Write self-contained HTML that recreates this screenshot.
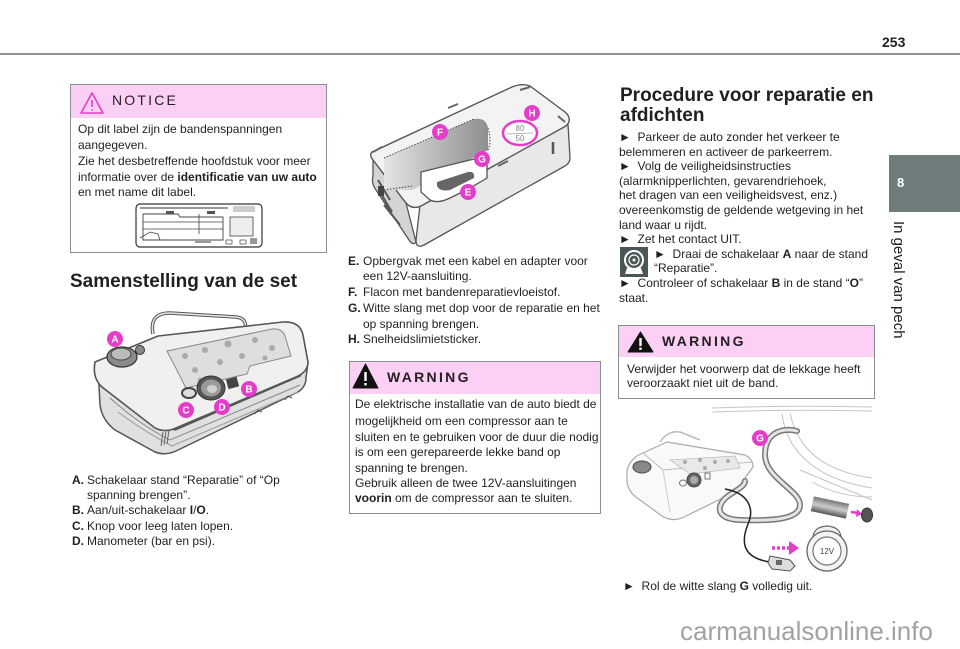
<!DOCTYPE html>
<html><head><meta charset="utf-8">
<style>
html,body{margin:0;padding:0;background:#fff;}
body{width:960px;height:649px;position:relative;overflow:hidden;font-family:"Liberation Sans",Arial,sans-serif;color:#231f20;}
.t{position:absolute;white-space:nowrap;font-size:12px;line-height:15px;color:#231f20;}
.h{position:absolute;white-space:nowrap;font-size:19px;line-height:22px;font-weight:bold;color:#231f20;}
b{font-weight:bold;}
.box{position:absolute;border:1px solid #86908f;box-sizing:border-box;background:#fff;}
.bh{position:absolute;left:0;right:0;top:0;background:#fcd0f5;}
svg{position:absolute;left:0;top:0;}
</style></head><body>

<!-- header -->
<div style="position:absolute;left:0;top:53px;width:960px;height:2px;background:#8c9696;"></div>
<div style="position:absolute;left:882px;top:33px;font-size:14px;font-weight:bold;line-height:18px;">253</div>

<!-- sidebar -->
<div style="position:absolute;left:889px;top:155px;width:71px;height:57px;background:#6e7c7b;"></div>
<div style="position:absolute;left:897px;top:175px;font-size:13px;font-weight:bold;color:#fff;line-height:16px;">8</div>
<div style="position:absolute;left:889px;top:221px;width:18px;height:125px;writing-mode:vertical-rl;font-size:15px;line-height:18px;white-space:nowrap;color:#231f20;">In geval van pech</div>

<!-- NOTICE box -->
<div class="box" style="left:70px;top:84px;width:257px;height:169px;">
  <div class="bh" style="height:33px;"></div>
</div>
<div style="position:absolute;left:112px;top:91px;font-size:14px;line-height:18px;letter-spacing:2.2px;color:#231f20;">NOTICE</div>
<div class="t" style="left:78px;top:122px;">Op dit label zijn de bandenspanningen</div>
<div class="t" style="left:78px;top:138px;">aangegeven.</div>
<div class="t" style="left:78px;top:154px;">Zie het desbetreffende hoofdstuk voor meer</div>
<div class="t" style="left:78px;top:170px;">informatie over de <b>identificatie van uw auto</b></div>
<div class="t" style="left:78px;top:185px;">en met name dit label.</div>

<div class="h" style="left:70px;top:271px;">Samenstelling van de set</div>

<div class="t" style="left:72px;top:473px;"><b>A.</b></div><div class="t" style="left:87px;top:473px;">Schakelaar stand “Reparatie” of “Op</div>
<div class="t" style="left:87px;top:488px;">spanning brengen”.</div>
<div class="t" style="left:72px;top:503px;"><b>B.</b></div><div class="t" style="left:87px;top:503px;">Aan/uit-schakelaar <b>I</b>/<b>O</b>.</div>
<div class="t" style="left:72px;top:519px;"><b>C.</b></div><div class="t" style="left:87px;top:519px;">Knop voor leeg laten lopen.</div>
<div class="t" style="left:72px;top:534px;"><b>D.</b></div><div class="t" style="left:87px;top:534px;">Manometer (bar en psi).</div>

<!-- middle column -->
<div class="t" style="left:348px;top:254px;"><b>E.</b></div><div class="t" style="left:363px;top:254px;">Opbergvak met een kabel en adapter voor</div>
<div class="t" style="left:363px;top:269px;">een 12V-aansluiting.</div>
<div class="t" style="left:348px;top:285px;"><b>F.</b></div><div class="t" style="left:363px;top:285px;">Flacon met bandenreparatievloeistof.</div>
<div class="t" style="left:348px;top:301px;"><b>G.</b></div><div class="t" style="left:363px;top:301px;">Witte slang met dop voor de reparatie en het</div>
<div class="t" style="left:363px;top:317px;">op spanning brengen.</div>
<div class="t" style="left:348px;top:332px;"><b>H.</b></div><div class="t" style="left:363px;top:332px;">Snelheidslimietsticker.</div>

<div class="box" style="left:349px;top:361px;width:252px;height:153px;">
  <div class="bh" style="height:32px;"></div>
</div>
<div style="position:absolute;left:387px;top:368px;font-size:14px;font-weight:bold;line-height:18px;letter-spacing:2.3px;">WARNING</div>
<div class="t" style="left:355px;top:397px;">De elektrische installatie van de auto biedt de</div>
<div class="t" style="left:355px;top:414px;">mogelijkheid om een compressor aan te</div>
<div class="t" style="left:355px;top:430px;">sluiten en te gebruiken voor de duur die nodig</div>
<div class="t" style="left:355px;top:445px;">is om een gerepareerde lekke band op</div>
<div class="t" style="left:355px;top:461px;">spanning te brengen.</div>
<div class="t" style="left:355px;top:476px;">Gebruik alleen de twee 12V-aansluitingen</div>
<div class="t" style="left:355px;top:491px;"><b>voorin</b> om de compressor aan te sluiten.</div>

<!-- right column -->
<div class="h" style="left:620px;top:85px;">Procedure voor reparatie en</div>
<div class="h" style="left:620px;top:105px;">afdichten</div>
<div class="t" style="left:619px;top:130px;">►&nbsp;&nbsp;Parkeer de auto zonder het verkeer te</div>
<div class="t" style="left:619px;top:145px;">belemmeren en activeer de parkeerrem.</div>
<div class="t" style="left:619px;top:159px;">►&nbsp;&nbsp;Volg de veiligheidsinstructies</div>
<div class="t" style="left:619px;top:174px;">(alarmknipperlichten, gevarendriehoek,</div>
<div class="t" style="left:619px;top:188px;">het dragen van een veiligheidsvest, enz.)</div>
<div class="t" style="left:619px;top:203px;">overeenkomstig de geldende wetgeving in het</div>
<div class="t" style="left:619px;top:218px;">land waar u rijdt.</div>
<div class="t" style="left:619px;top:232px;">►&nbsp;&nbsp;Zet het contact UIT.</div>
<div class="t" style="left:654px;top:247px;">►&nbsp;&nbsp;Draai de schakelaar <b>A</b> naar de stand</div>
<div class="t" style="left:654px;top:261px;">“Reparatie”.</div>
<div class="t" style="left:619px;top:276px;">►&nbsp;&nbsp;Controleer of schakelaar <b>B</b> in de stand “<b>O</b>”</div>
<div class="t" style="left:619px;top:291px;">staat.</div>

<div class="box" style="left:618px;top:325px;width:257px;height:74px;">
  <div class="bh" style="height:31px;"></div>
</div>
<div style="position:absolute;left:662px;top:332px;font-size:14px;font-weight:bold;line-height:18px;letter-spacing:2.3px;">WARNING</div>
<div class="t" style="left:627px;top:362px;">Verwijder het voorwerp dat de lekkage heeft</div>
<div class="t" style="left:627px;top:376px;">veroorzaakt niet uit de band.</div>

<div class="t" style="left:623px;top:579px;">►&nbsp;&nbsp;Rol de witte slang <b>G</b> volledig uit.</div>

<div style="position:absolute;left:680px;top:616px;font-size:26px;line-height:30px;color:#a2a2a2;white-space:nowrap;">carmanualsonline.info</div>

<svg width="960" height="649" viewBox="0 0 960 649" xmlns="http://www.w3.org/2000/svg" style="pointer-events:none">
  <defs>
    <linearGradient id="rec" x1="0" y1="0" x2="1" y2="0">
      <stop offset="0" stop-color="#e4e4e4"/><stop offset="1" stop-color="#8f8f8f"/>
    </linearGradient>
    <linearGradient id="val" x1="0" y1="0" x2="0" y2="1">
      <stop offset="0" stop-color="#777"/><stop offset="0.5" stop-color="#ccc"/><stop offset="1" stop-color="#555"/>
    </linearGradient>
  </defs>

  <!-- notice triangle -->
  <path d="M92,93 L103,113 L81,113 Z" fill="none" stroke="#e43dc9" stroke-width="1.6" stroke-linejoin="round"/>
  <line x1="92" y1="100" x2="92" y2="107" stroke="#e43dc9" stroke-width="1.6"/>
  <circle cx="92" cy="110" r="0.9" fill="#e43dc9"/>

  <!-- notice label image -->
  <rect x="136" y="204" width="126" height="43" rx="4" fill="#fff" stroke="#333" stroke-width="1.2"/>
  <line x1="140" y1="208" x2="228" y2="208" stroke="#777" stroke-width="1.5"/>
  <rect x="233" y="206" width="22" height="6" fill="#ccc"/>
  <path d="M143,214 L178,214 L180,217 L223,217 L223,240 L143,240 Z" fill="none" stroke="#444" stroke-width="0.9"/>
  <line x1="143" y1="222" x2="223" y2="222" stroke="#444" stroke-width="0.8"/>
  <line x1="143" y1="229" x2="223" y2="229" stroke="#444" stroke-width="0.8"/>
  <line x1="199" y1="214" x2="199" y2="234" stroke="#444" stroke-width="0.8"/>
  <path d="M140,238 L150,232 L158,234 L160,240" fill="none" stroke="#444" stroke-width="0.8"/>
  <rect x="230" y="217" width="23" height="19" fill="#eee" stroke="#444" stroke-width="0.8"/>
  <rect x="166" y="211" width="8" height="3" fill="#555"/><rect x="207" y="211" width="8" height="3" fill="#555"/>
  <rect x="226" y="240" width="6" height="4" fill="none" stroke="#444" stroke-width="0.7"/>
  <rect x="240" y="240" width="6" height="4" fill="none" stroke="#444" stroke-width="0.7"/>
  <rect x="250" y="238" width="7" height="6" fill="#999"/>
  <rect x="195" y="241" width="16" height="2" fill="#999"/>

  <!-- LEFT FIGURE: compressor -->
  <path d="M153,334 C150,318 158,313 170,313 L236,317 C244,318 247,322 245,331" fill="none" stroke="#555" stroke-width="3.5"/>
  <path d="M153,334 C150,318 158,313 170,313 L236,317 C244,318 247,322 245,331" fill="none" stroke="#e6e6e6" stroke-width="1.5"/>
  <path d="M98,365 L100,405 Q102,420 115,430 L155,452 Q165,456 176,451 L298,392 Q306,387 306,378 L308,362 L300,376 L175,430 L100,385 Z" fill="#e0e0e0" stroke="#555" stroke-width="1.5" stroke-linejoin="round"/>
  <path d="M95,362 L158,336 L283,322 Q300,321 303,335 L308,362 Q308,372 296,377 L176,428 Q165,433 155,428 L102,387 Q92,378 95,362 Z" fill="#f0f0f0" stroke="#555" stroke-width="1.6" stroke-linejoin="round"/>
  <path d="M110,398 Q140,425 170,440 L300,385" fill="none" stroke="#888" stroke-width="1"/>
  <path d="M118,412 Q145,432 172,446 L298,392" fill="none" stroke="#999" stroke-width="1"/>
  <path d="M167,351 L272,329 Q282,328 285,336 L291,356 L250,366 L247,374 L186,388 Z" fill="#dedede" stroke="#888" stroke-width="1"/>
  <g fill="#aaa">
    <circle cx="185" cy="356" r="3"/><circle cx="205" cy="350" r="3"/><circle cx="228" cy="344" r="3.5"/><circle cx="255" cy="340" r="3"/><circle cx="272" cy="348" r="3"/>
    <circle cx="195" cy="370" r="3"/><circle cx="220" cy="362" r="3"/><circle cx="242" cy="356" r="3"/><circle cx="200" cy="380" r="2.5"/><circle cx="265" cy="358" r="2.5"/>
  </g>
  <ellipse cx="122" cy="357" rx="15" ry="10" fill="#8a8a8a" stroke="#333" stroke-width="1.2"/>
  <ellipse cx="121" cy="354" rx="10" ry="6" fill="#bbb" stroke="#444" stroke-width="1"/>
  <circle cx="140" cy="350" r="4.5" fill="#888" stroke="#333" stroke-width="1"/>
  <ellipse cx="211" cy="388" rx="14" ry="12" fill="#555" stroke="#333" stroke-width="1"/>
  <ellipse cx="211" cy="388" rx="10" ry="8.5" fill="#9a9a9a"/>
  <ellipse cx="212" cy="389" rx="5" ry="4" fill="#d0d0d0"/>
  <rect x="227" y="378" width="11" height="10" fill="#444" transform="rotate(-15 232 383)"/>
  <ellipse cx="189" cy="393" rx="7" ry="5" fill="#ddd" stroke="#444" stroke-width="2"/>
  <g stroke="#666" stroke-width="1"><line x1="163" y1="432" x2="161" y2="446"/><line x1="166" y1="431" x2="164" y2="445"/><line x1="169" y1="430" x2="167" y2="444"/></g>
  <path d="M255,414 l3,-4 l4,2 M285,400 l3,-4 l4,2" fill="none" stroke="#555" stroke-width="1"/>
  <g font-family="Liberation Sans, sans-serif" font-weight="bold" font-size="10" fill="#fff" text-anchor="middle">
    <circle cx="115" cy="339" r="8" fill="#e43dc9"/><text x="115" y="342.5">A</text>
    <circle cx="249" cy="389" r="8" fill="#e43dc9"/><text x="249" y="392.5">B</text>
    <circle cx="186" cy="410" r="8" fill="#e43dc9"/><text x="186" y="413.5">C</text>
    <circle cx="222" cy="407" r="8" fill="#e43dc9"/><text x="222" y="410.5">D</text>
  </g>

  <!-- MIDDLE FIGURE -->
  <path d="M373,160 L406,203 L416,242 Q413,246 409,240 L376,190 Q371,183 373,176 Z" fill="#d4d4d4" stroke="#555" stroke-width="1.3" stroke-linejoin="round"/>
  <path d="M420,205 L568,124 L570,158 Q570,163 565,166 L424,245 Q416,249 416,240 Z" fill="#e8e8e8" stroke="#555" stroke-width="1.3" stroke-linejoin="round"/>
  <path d="M372,152 L512,87 Q522,83 530,86 L565,112 Q573,119 566,126 L421,206 Q412,210 406,203 L373,160 Q369,155 372,152 Z" fill="#f3f3f3" stroke="#555" stroke-width="1.4" stroke-linejoin="round"/>
  <path d="M384,158 L474,119 Q486,117 488,128 L488,150 L450,170 L412,190 L384,190 Z" fill="url(#rec)"/>
  <path d="M384,158 L474,119" stroke="#444" stroke-width="1" stroke-dasharray="1.5,1.5" fill="none"/>
  <path d="M384,190 L412,186" stroke="#444" stroke-width="1" stroke-dasharray="1.5,1.5" fill="none"/>
  <path d="M488,128 Q492,140 488,150" stroke="#444" stroke-width="1" stroke-dasharray="1.5,1.5" fill="none"/>
  <path d="M421,172 L470,160 Q485,156 487,165 L487,178 L470,188 L450,198 Q438,204 430,200 L421,192 Z" fill="#fff" stroke="#555" stroke-width="1.3"/>
  <path d="M437,182 L468,172 Q475,171 474,178 L450,190 Q440,192 437,186 Z" fill="#666"/>
  <path d="M378,180 L390,200 M380,192 L392,212 M384,205 L400,225" stroke="#555" stroke-width="2"/>
  <rect x="378" y="186" width="6" height="10" fill="#444"/>
  <path d="M448,108 L458,104 M520,90 L530,87 M558,116 L565,122 M498,166 L508,161 M373,152 L382,147" stroke="#666" stroke-width="2"/>
  <line x1="553" y1="142" x2="553" y2="154" stroke="#555" stroke-width="2.5"/>
  <ellipse cx="520" cy="133" rx="17" ry="12" fill="#fff" stroke="#e43dc9" stroke-width="2.5"/>
  <text x="520" y="131" font-family="Liberation Sans, sans-serif" font-size="8" fill="#888" text-anchor="middle">80</text>
  <text x="520" y="141" font-family="Liberation Sans, sans-serif" font-size="8" fill="#888" text-anchor="middle">50</text>
  <line x1="507" y1="134" x2="533" y2="133" stroke="#aaa" stroke-width="0.8"/>
  <g font-family="Liberation Sans, sans-serif" font-weight="bold" font-size="10" fill="#fff" text-anchor="middle">
    <circle cx="440" cy="132" r="8" fill="#e43dc9"/><text x="440" y="135.5">F</text>
    <circle cx="532" cy="113" r="8" fill="#e43dc9"/><text x="532" y="116.5">H</text>
    <circle cx="482" cy="159" r="8" fill="#e43dc9"/><text x="482" y="162.5">G</text>
    <circle cx="468" cy="192" r="8" fill="#e43dc9"/><text x="468" y="195.5">E</text>
  </g>

  <!-- warning triangles -->
  <path d="M365.5,364 L378,388 L353,388 Z" fill="#111" stroke="#111" stroke-width="1" stroke-linejoin="round"/>
  <rect x="364.3" y="372" width="2.4" height="9" fill="#fff"/><rect x="364.3" y="383" width="2.4" height="2.4" fill="#fff"/>
  <path d="M640.5,332 L653,352 L628,352 Z" fill="#111" stroke="#111" stroke-width="1" stroke-linejoin="round"/>
  <rect x="639.3" y="338" width="2.4" height="8" fill="#fff"/><rect x="639.3" y="347.5" width="2.4" height="2.4" fill="#fff"/>

  <!-- right col icon -->
  <rect x="620" y="247" width="28" height="30" fill="#4b5656"/>
  <circle cx="634" cy="260" r="9" fill="none" stroke="#fff" stroke-width="2"/>
  <circle cx="634" cy="260" r="5" fill="none" stroke="#fff" stroke-width="1.2"/>
  <circle cx="634" cy="260" r="1.5" fill="#fff"/>
  <path d="M625,274 L627,268 L641,268 L643,274 Z" fill="#fff"/>

  <!-- RIGHT FIGURE -->
  <g fill="none" stroke="#c4c4c4" stroke-width="1">
    <path d="M712,408 Q790,405 872,407"/>
    <path d="M712,412 Q790,409 872,411"/>
    <path d="M782,414 C786,445 808,478 872,488"/>
    <path d="M790,413 C796,442 815,470 872,478"/>
    <path d="M800,470 L872,500"/>
    <path d="M812,482 C830,492 850,497 872,497"/>
  </g>
  <path d="M627,470 Q630,458 643,453 L667,442 L745,455 Q753,459 753,467 L735,492 L682,518 Q672,522 662,516 L640,500 Q627,492 627,480 Z" fill="#f9f9f9" stroke="#aaa" stroke-width="1.2"/>
  <path d="M643,453 L663,470 L752,462" fill="none" stroke="#bbb" stroke-width="1"/>
  <path d="M663,470 L670,512" fill="none" stroke="#ccc" stroke-width="1"/>
  <path d="M660,442 Q668,430 680,432 L700,440" fill="none" stroke="#bbb" stroke-width="1.5"/>
  <path d="M670,460 L735,456 L740,468 L690,474 Z" fill="#e9e9e9" stroke="#bbb" stroke-width="0.8"/>
  <g fill="#aaa"><circle cx="685" cy="462" r="2"/><circle cx="700" cy="460" r="2"/><circle cx="715" cy="462" r="2"/><circle cx="728" cy="461" r="2"/><circle cx="705" cy="468" r="2"/></g>
  <ellipse cx="642" cy="467" rx="9" ry="6" fill="#888" stroke="#444" stroke-width="1"/>
  <circle cx="694" cy="480" r="7" fill="#666" stroke="#444"/>
  <circle cx="694" cy="480" r="4" fill="#aaa"/>
  <rect x="705" y="473" width="5" height="6" fill="none" stroke="#777"/>
  <ellipse cx="683" cy="483" rx="3.5" ry="3" fill="none" stroke="#777"/>
  <!-- hose -->
  <path d="M797,431 C780,427 765,434 765,455 C765,478 800,490 800,505 C800,520 770,521 740,520 C716,519 715,506 728,496 C738,489 745,486 745,481" fill="none" stroke="#777" stroke-width="6" stroke-linecap="round"/>
  <path d="M797,431 C780,427 765,434 765,455 C765,478 800,490 800,505 C800,520 770,521 740,520 C716,519 715,506 728,496 C738,489 745,486 745,481" fill="none" stroke="#e4e4e4" stroke-width="3" stroke-linecap="round"/>
  <!-- cable -->
  <path d="M725,489 C748,493 755,508 748,524 C740,544 744,558 770,562" fill="none" stroke="#222" stroke-width="1.5"/>
  <path d="M770,556 L790,560 L795,566 L790,571 L772,569 L768,563 Z" fill="#ddd" stroke="#555" stroke-width="1"/>
  <rect x="776" y="560" width="6" height="5" fill="#666"/>
  <!-- valve -->
  <rect x="812" y="500" width="36" height="15" fill="url(#val)" transform="rotate(12 830 507)"/>
  <path d="M851,512 L858,513" stroke="#e43dc9" stroke-width="2.5"/>
  <path d="M857,509 L862,514 L856,517 Z" fill="#e43dc9"/>
  <ellipse cx="867" cy="515" rx="5.5" ry="7" fill="#555" stroke="#333"/>
  <!-- 12V socket -->
  <path d="M813,540 Q812,527 827,526 Q842,527 841,540" fill="#f0f0f0" stroke="#666" stroke-width="1.2"/>
  <circle cx="827" cy="551" r="20" fill="#f4f4f4" stroke="#666" stroke-width="1.3"/>
  <circle cx="827" cy="551" r="14" fill="#fff" stroke="#777" stroke-width="1.2"/>
  <text x="827" y="554" font-family="Liberation Sans, sans-serif" font-size="8" fill="#444" text-anchor="middle">12V</text>
  <path d="M772,548 L790,548" stroke="#e43dc9" stroke-width="3.5" stroke-dasharray="3,2"/>
  <path d="M789,541 L799,548 L789,555 Z" fill="#e43dc9"/>
  <g font-family="Liberation Sans, sans-serif" font-weight="bold" font-size="10" fill="#fff" text-anchor="middle">
    <circle cx="760" cy="438" r="8" fill="#e43dc9"/><text x="760" y="441.5">G</text>
  </g>
</svg>
</body></html>
